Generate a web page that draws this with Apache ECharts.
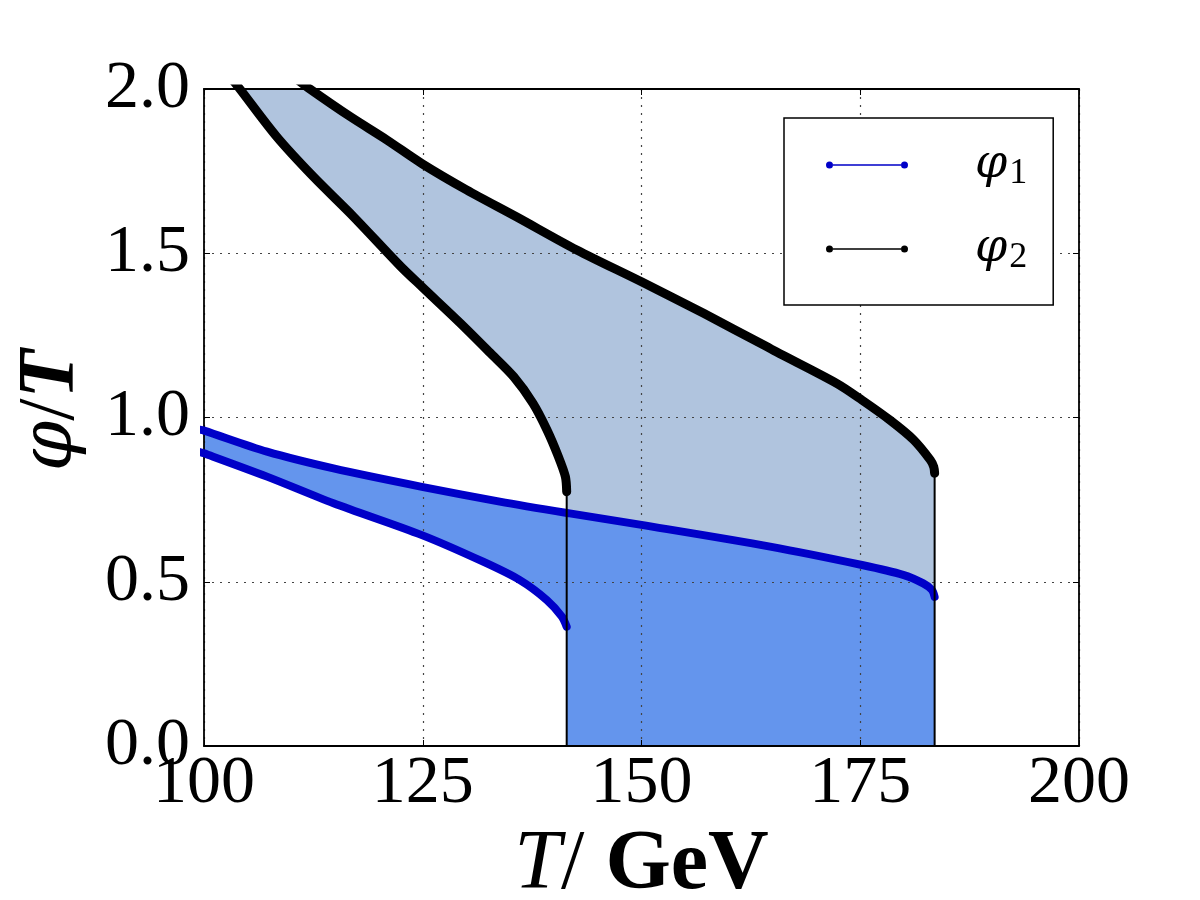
<!DOCTYPE html>
<html>
<head>
<meta charset="utf-8">
<script src="https://cdn.jsdelivr.net/npm/echarts@6/dist/echarts.min.js"></script>
<style>
  html, body { margin: 0; padding: 0; background: #fff; }
  #chart { width: 1200px; height: 900px; }
</style>
</head>
<body>
<div id="chart"></div>
<script>
// phi_2 (black) branches
const phi2UpperT = [110.6, 112.1, 116.7, 120.9, 124.9, 130.0, 135.7, 142.6, 150.0, 157.1, 164.3, 165.4, 172.3, 175.2, 178.4, 181.1, 183.0, 183.4, 183.5];
const phi2UpperV = [2.03, 2.0, 1.916, 1.845, 1.773, 1.693, 1.611, 1.510, 1.413, 1.317, 1.216, 1.200, 1.104, 1.053, 0.992, 0.932, 0.871, 0.850, 0.830];
const phi2LowerT = [103.2, 104.1, 108.3, 112.5, 117.1, 122.4, 124.9, 129.3, 132.7, 135.4, 137.6, 139.2, 140.5, 141.3, 141.45];
const phi2LowerV = [2.03, 2.0, 1.855, 1.733, 1.611, 1.462, 1.398, 1.287, 1.197, 1.124, 1.043, 0.962, 0.881, 0.820, 0.774];

// phi_1 (blue) branches
const phi1UpperT = [99.5, 100, 107.2, 114.8, 124.9, 133.8, 141.8, 150.0, 164.7, 175.2, 179.9, 182.2, 183.2, 183.5];
const phi1UpperV = [0.963, 0.960, 0.896, 0.845, 0.789, 0.744, 0.708, 0.673, 0.607, 0.551, 0.521, 0.495, 0.475, 0.454];
const phi1LowerT = [99.5, 100, 107.2, 114.8, 124.9, 131.9, 136.1, 139.2, 140.9, 141.45];
const phi1LowerV = [0.895, 0.891, 0.820, 0.739, 0.642, 0.561, 0.505, 0.444, 0.394, 0.363];

// transition temperatures (drop to zero)
const dropT = [141.45, 183.5];
const dropTop = [0.774, 0.830];

const xTicks = [100, 125, 150, 175, 200];
const yTicks = [0.0, 0.5, 1.0, 1.5, 2.0];

const BLUE = "#0000c8";
const BLACK = "#000000";

const zip = (t, v) => t.map((x, i) => [x, v[i]]);

// shaded regions: upper curve, down to 0, back along lower curve
const outerPoly = zip(phi2UpperT, phi2UpperV)
  .concat([[dropT[1], 0], [dropT[0], 0]])
  .concat(zip(phi2LowerT, phi2LowerV).reverse());
const innerPoly = zip(phi1UpperT, phi1UpperV)
  .concat([[dropT[1], 0], [dropT[0], 0]])
  .concat(zip(phi1LowerT, phi1LowerV).reverse());

const polyRender = (fill) => (params, api) => {
  if (params.dataIndexInside > 0) return null;
  const pts = [];
  for (let i = 0; i < params.dataInsideLength; i++) {
    pts.push(api.coord([api.value(0, i), api.value(1, i)]));
  }
  return { type: "polygon", shape: { points: pts }, style: { fill: fill } };
};

const legendIcon =
  "path://M0,3.5a3.5,3.5 0 1,0 7,0a3.5,3.5 0 1,0 -7,0Z" +
  "M7,2.7L75,2.7L75,4.3L7,4.3Z" +
  "M75,3.5a3.5,3.5 0 1,0 7,0a3.5,3.5 0 1,0 -7,0Z";

const serif = "Liberation Serif";
const axisCommon = {
  type: "value",
  z: 2,
  axisLine: { show: true, onZero: false, lineStyle: { color: BLACK, width: 1.8 } },
  axisTick: { show: true, inside: true, length: 6, lineStyle: { color: BLACK, width: 1 } },
};

const chart = echarts.init(document.getElementById("chart"));

const curve = (name, t, v, color, width) => ({
  type: "line", name: name, z: 3, clip: true, symbol: "none", smooth: 0.3,
  data: zip(t, v),
  itemStyle: { color: color },
  lineStyle: { color: color, width: width, cap: "round", join: "round" },
});

const option = {
  animation: false,
  backgroundColor: "#fff",
  grid: { left: 204, right: 121, top: 89, bottom: 154, outerBoundsMode: "none", containLabel: false },
  legend: {
    left: 784,
    top: 118,
    orient: "vertical",
    padding: [24, 26, 29, 42],
    itemWidth: 82,
    itemHeight: 7,
    itemGap: 34,
    borderColor: BLACK,
    borderWidth: 1.5,
    backgroundColor: "#fff",
    selectedMode: false,
    data: [
      { name: "φ1", icon: legendIcon },
      { name: "φ2", icon: legendIcon },
    ],
    formatter: (name) => "{p|φ}{s|" + name.slice(1) + "}",
    textStyle: {
      rich: {
        p: { fontFamily: "DejaVu Serif", fontStyle: "italic", fontSize: 46, color: BLACK, padding: [0, 0, 0, 62] },
        s: { fontFamily: serif, fontSize: 36, color: BLACK, padding: [18, 0, 0, 2] },
      },
    },
  },
  xAxis: [
    {
      ...axisCommon,
      position: "bottom",
      min: xTicks[0],
      max: xTicks[xTicks.length - 1],
      interval: 25,
      axisLabel: { margin: 4, fontFamily: serif, fontSize: 68, color: BLACK },
      splitLine: { show: true, lineStyle: { color: "#444", type: [2, 6], width: 1.2 } },
      name: "{t|T}{s|/ }{g|GeV}",
      nameLocation: "middle",
      nameGap: 78,
      nameTextStyle: {
        rich: {
          t: { fontFamily: serif, fontStyle: "italic", fontSize: 84, color: BLACK },
          s: { fontFamily: serif, fontSize: 84, color: BLACK },
          g: { fontFamily: serif, fontWeight: "bold", fontSize: 84, color: BLACK },
        },
      },
    },
    {
      ...axisCommon,
      position: "top",
      min: xTicks[0],
      max: xTicks[xTicks.length - 1],
      interval: 25,
      axisLabel: { show: false },
      splitLine: { show: false },
    },
  ],
  yAxis: [
    {
      ...axisCommon,
      position: "left",
      min: yTicks[0],
      max: yTicks[yTicks.length - 1],
      interval: 0.5,
      axisLabel: { margin: 14, fontFamily: serif, fontSize: 68, color: BLACK, formatter: (v) => v.toFixed(1) },
      splitLine: { show: true, lineStyle: { color: "#444", type: [2, 6], width: 1.2 } },
      name: "{p|φ}{s|/}{t|T}",
      nameLocation: "middle",
      nameRotate: 90,
      nameGap: 112,
      nameTextStyle: {
        padding: [0, 0, 0, 14],
        rich: {
          p: { fontFamily: "DejaVu Serif", fontStyle: "italic", fontSize: 72, color: BLACK },
          s: { fontFamily: serif, fontSize: 80, color: BLACK },
          t: { fontFamily: serif, fontStyle: "italic", fontWeight: "bold", fontSize: 80, color: BLACK },
        },
      },
    },
    {
      ...axisCommon,
      position: "right",
      min: yTicks[0],
      max: yTicks[yTicks.length - 1],
      interval: 0.5,
      axisLabel: { show: false },
      splitLine: { show: false },
    },
  ],
  series: [
    { type: "custom", name: "outerFill", z: 1, silent: true, clip: true, data: outerPoly, renderItem: polyRender("#b0c4de") },
    { type: "custom", name: "innerFill", z: 1, silent: true, clip: true, data: innerPoly, renderItem: polyRender("#6495ed") },
    curve("φ1", phi1UpperT, phi1UpperV, BLUE, 8),
    curve("φ1", phi1LowerT, phi1LowerV, BLUE, 8),
    curve("φ2", phi2UpperT, phi2UpperV, BLACK, 9),
    curve("φ2", phi2LowerT, phi2LowerV, BLACK, 9),
    ...dropT.map((t, i) => ({
      type: "line", name: "φ2", z: 4, clip: false,
      symbol: "circle", symbolSize: 7,
      data: [[t, dropTop[i]], { value: [t, 0], symbol: "none" }],
      itemStyle: { color: BLACK },
      lineStyle: { color: BLACK, width: 2 },
    })),
  ],
};

chart.setOption(option);
</script>
</body>
</html>
